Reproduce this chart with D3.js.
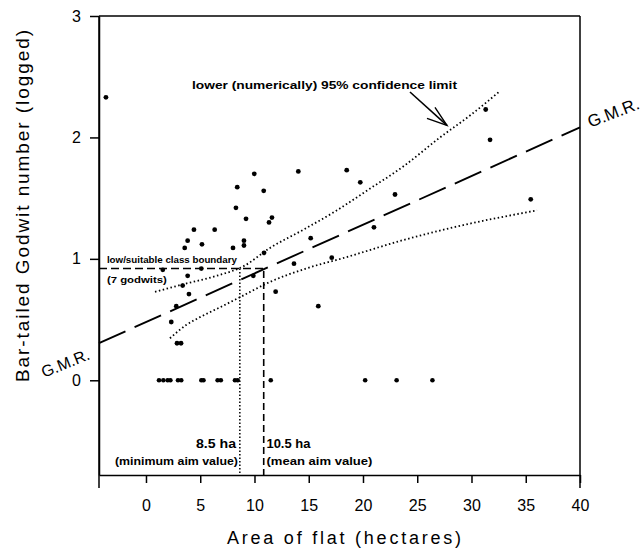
<!DOCTYPE html>
<html><head><meta charset="utf-8">
<script src="https://cdn.jsdelivr.net/npm/d3@7"></script>
<style>
body{margin:0;background:#fff;}
text{font-family:"Liberation Sans",Arial,Helvetica,sans-serif;fill:#000;}
</style></head>
<body><svg id="c" width="644" height="550"></svg>
<script>
// ---- data ----
const xTicks = [0,5,10,15,20,25,30,35,40];
const yTicks = [0,1,2,3];
const pointX = [-3.69,9.98,8.41,10.85,8.29,9.22,11.34,11.61,4.42,6.33,3.84,5.16,9.03,9.03,3.57,8.02,10.88,3.84,3.38,3.96,2.79,2.33,2.86,3.23,9.89,11.95,14.04,18.50,19.75,22.95,15.18,21.01,17.12,13.64,15.88,31.31,31.71,35.46,1.55,5.1];
const pointY = [2.33,1.70,1.59,1.56,1.42,1.33,1.30,1.34,1.24,1.24,1.15,1.12,1.15,1.11,1.09,1.09,1.05,0.86,0.78,0.71,0.61,0.48,0.305,0.305,0.86,0.73,1.72,1.73,1.63,1.53,1.17,1.26,1.01,0.96,0.61,2.23,1.98,1.49,0.91,0.92];
const zeroX = [1.2,1.6,2.0,2.25,2.95,3.25,5.1,5.3,6.6,6.9,8.2,8.45,11.5,20.2,23.1,26.4];
const gmrIntercept = 0.479, gmrSlope = 0.0401;
const upperCIx = [0.83,3.41,6.5,9.0,11.43,14.5,17.6,20.5,23.7,27.1,30.0,32.6];
const upperCIy = [0.728,0.79,0.86,0.94,1.09,1.24,1.40,1.57,1.76,2.00,2.19,2.38];
const lowerCIx = [2.21,3.7,4.98,6.8,8.66,11.43,14.84,18.16,23.69,28.02,36.04];
const lowerCIy = [0.346,0.455,0.52,0.60,0.684,0.81,0.923,1.006,1.154,1.253,1.40];
const boundaryY = 0.92;
const minAim = 8.5, meanAim = 10.5;
const minAimPos = 8.65, meanAimPos = 10.85; // where the lines sit in the picture

// ---- layout ----
const svg = d3.select("#c");
const L = 99, R = 580, T = 16, B = 475;
const x = d3.scaleLinear().domain([-4.33,40]).range([L,R]);
const y = d3.scaleLinear().domain([-0.78,3]).range([B,T]);

// frame
const frame = svg.append("g").attr("stroke","#000").attr("stroke-width",1.5);
frame.append("line").attr("x1",L).attr("x2",R).attr("y1",T).attr("y2",T);
frame.append("line").attr("x1",R).attr("x2",R).attr("y1",T).attr("y2",488);
frame.append("line").attr("x1",L).attr("x2",L).attr("y1",T).attr("y2",488);

// axes
const xa = svg.append("g").attr("transform",`translate(0,${B})`)
  .call(d3.axisBottom(x).tickValues(xTicks).tickSize(8).tickSizeOuter(0).tickPadding(17).tickFormat(d3.format("d")));
const ya = svg.append("g").attr("transform",`translate(${L},0)`)
  .call(d3.axisLeft(y).tickValues(yTicks).tickSize(9).tickSizeOuter(0).tickPadding(9).tickFormat(d3.format("d")));
[xa,ya].forEach(a=>{
  a.selectAll("path,line").attr("stroke","#000").attr("stroke-width",1.5);
  a.selectAll("text").attr("font-size",16).attr("font-family","Liberation Sans, Arial, sans-serif").attr("fill","#000");
});

// axis titles
svg.append("text").attr("x",344).attr("y",544).attr("text-anchor","middle")
  .attr("font-size",18).attr("textLength",234).attr("lengthAdjust","spacing").text("Area of flat (hectares)");
svg.append("text").attr("transform","translate(29,206) rotate(-90)").attr("text-anchor","middle")
  .attr("font-size",19).attr("textLength",352).attr("lengthAdjust","spacing").text("Bar-tailed Godwit number (logged)");

// boundary line and aim lines
svg.append("line").attr("x1",x(-4.33)).attr("x2",x(meanAimPos)).attr("y1",y(boundaryY)).attr("y2",y(boundaryY))
  .attr("stroke","#000").attr("stroke-width",1.5).attr("stroke-dasharray","8,4");
svg.append("line").attr("x1",x(minAimPos)).attr("x2",x(minAimPos)).attr("y1",y(boundaryY)).attr("y2",B)
  .attr("stroke","#000").attr("stroke-width",1.5).attr("stroke-dasharray","1.5,2");
svg.append("line").attr("x1",x(meanAimPos)).attr("x2",x(meanAimPos)).attr("y1",y(0.9)).attr("y2",B)
  .attr("stroke","#000").attr("stroke-width",1.6).attr("stroke-dasharray","7,4");

// GMR line
svg.append("line").attr("x1",x(-4.33)).attr("y1",y(gmrIntercept+gmrSlope*-4.33))
  .attr("x2",x(40)).attr("y2",y(gmrIntercept+gmrSlope*40))
  .attr("stroke","#000").attr("stroke-width",1.9).attr("stroke-dasharray","29,10");

// confidence limits
const ln = d3.line().x(d=>x(d[0])).y(d=>y(d[1])).curve(d3.curveMonotoneX);
svg.append("path").attr("d",ln(upperCIx.map((v,i)=>[v,upperCIy[i]])))
  .attr("fill","none").attr("stroke","#000").attr("stroke-width",1.8).attr("stroke-dasharray","1.5,2.5");
svg.append("path").attr("d",ln(lowerCIx.map((v,i)=>[v,lowerCIy[i]])))
  .attr("fill","none").attr("stroke","#000").attr("stroke-width",1.8).attr("stroke-dasharray","1.5,2.5");

// points
svg.append("g").selectAll("circle").data(pointX.map((v,i)=>[v,pointY[i]])).join("circle")
  .attr("cx",d=>x(d[0])).attr("cy",d=>y(d[1])).attr("r",2.4).attr("fill","#000");
svg.append("g").selectAll("circle").data(zeroX).join("circle")
  .attr("cx",d=>x(d)).attr("cy",y(0)).attr("r",2.3).attr("fill","#000");

// annotations
svg.append("text").attr("x",x(4.24)).attr("y",y(2.4)).attr("font-size",11.5).attr("font-weight","bold")
  .attr("textLength",265).attr("lengthAdjust","spacingAndGlyphs").text("lower (numerically) 95% confidence limit");
const ax1=x(24.33), ay1=y(2.374), ax2=x(27.74), ay2=y(2.10);
svg.append("line").attr("x1",ax1).attr("y1",ay1).attr("x2",ax2).attr("y2",ay2).attr("stroke","#000").attr("stroke-width",1.6);
svg.append("path").attr("d",`M${ax2-12},${ay2-18}L${ax2},${ay2}L${ax2-20},${ay2-7}`).attr("fill","none").attr("stroke","#000").attr("stroke-width",1.4);

svg.append("text").attr("x",x(-3.6)).attr("y",y(0.965)).attr("font-size",8.5).attr("font-weight","bold")
  .attr("textLength",130).attr("lengthAdjust","spacingAndGlyphs").text("low/suitable class boundary");
svg.append("text").attr("x",x(-3.6)).attr("y",y(0.80)).attr("font-size",8.5).attr("font-weight","bold")
  .attr("textLength",60).attr("lengthAdjust","spacingAndGlyphs").text("(7 godwits)");

svg.append("text").attr("x",x(8.3)).attr("y",y(-0.56)).attr("font-size",12).attr("font-weight","bold").attr("text-anchor","end")
  .attr("textLength",40).attr("lengthAdjust","spacingAndGlyphs").text(minAim+" ha");
svg.append("text").attr("x",x(8.48)).attr("y",y(-0.70)).attr("font-size",11.5).attr("font-weight","bold").attr("text-anchor","end")
  .attr("textLength",123).attr("lengthAdjust","spacingAndGlyphs").text("(minimum aim value)");
svg.append("text").attr("x",x(11.1)).attr("y",y(-0.56)).attr("font-size",12).attr("font-weight","bold")
  .attr("textLength",44).attr("lengthAdjust","spacingAndGlyphs").text(meanAim+" ha");
svg.append("text").attr("x",x(11.1)).attr("y",y(-0.70)).attr("font-size",11.5).attr("font-weight","bold")
  .attr("textLength",106).attr("lengthAdjust","spacingAndGlyphs").text("(mean aim value)");

svg.append("text").attr("transform",`translate(${x(40.95)},${y(2.08)}) rotate(-21)`).attr("font-size",17).text("G.M.R.");
svg.append("text").attr("transform",`translate(${x(-9.4)},${y(0.02)}) rotate(-22)`).attr("font-size",16).text("G.M.R.");
</script></body></html>
